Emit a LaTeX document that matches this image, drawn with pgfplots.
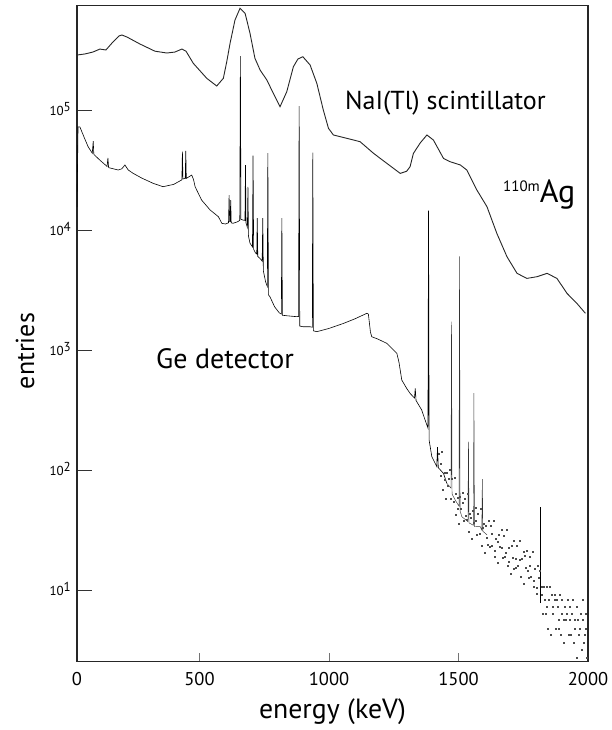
\documentclass[border=0pt]{standalone}
\usepackage{fontspec}
\setmainfont{PT Sans}
\usepackage{pgfplots}
\usepackage{pgfplotstable}
\pgfplotsset{compat=1.18}

% NaI(Tl) spectrum: energy (keV), log10(entries)
\pgfplotstableread{
E ly
26.7 5.458
57.6 5.467
88.5 5.483
115.5 5.508
138.7 5.500
165.8 5.567
189 5.617
200.5 5.625
220 5.608
270 5.550
328 5.490
374 5.475
405 5.483
432 5.508
448 5.490
476 5.389
528 5.264
566.5 5.200
592 5.264
605 5.400
618 5.556
637 5.750
656.5 5.848
676 5.806
695 5.639
714 5.431
734 5.333
760 5.250
785 5.139
811 5.028
837 5.153
862.5 5.361
880 5.425
899 5.444
927 5.375
953 5.222
978 5.000
998 4.847
1017 4.792
1069 4.764
1120 4.736
1172 4.639
1223 4.556
1275 4.472
1300 4.490
1313 4.528
1326 4.639
1352 4.725
1378 4.792
1403 4.750
1442 4.597
1468 4.569
1507 4.542
1532 4.500
1571 4.333
1610 4.194
1648 3.972
1687 3.778
1726 3.639
1764 3.597
1803 3.611
1842 3.639
1880 3.597
1919 3.472
1957 3.389
1990 3.306
}\naidata

% Ge detector spectrum: energy (keV), log10(entries)
\pgfplotstableread{
E ly
27 4.19
31 4.86
38 4.86
55 4.77
70 4.694
86 4.64
89.6 4.74
92 4.63
115 4.583
143 4.53
146.4 4.60
149 4.52
186 4.50
200 4.51
212 4.542
225 4.50
244 4.472
277 4.433
320 4.39
359 4.361
400 4.38
431 4.417
432 4.42
434 4.653
436 4.425
445 4.43
447 4.66
449 4.43
470 4.458
477 4.42
483 4.361
508 4.25
541 4.167
573 4.111
586 4.056
600 4.05
612 4.06
614.3 4.29
616.5 4.07
618.5 4.07
620.4 4.25
622.5 4.06
629 4.056
645 4.067
655.5 4.08
657.8 5.45
660 4.09
668 4.083
675.5 4.08
677.6 4.54
679.5 4.06
685 4.02
687 4.36
689 3.95
695 3.89
704.5 3.86
706.7 4.62
709 3.84
716 3.81
721 3.80
722.9 4.10
725 3.78
735 3.76
742 3.74
744.3 4.10
746.5 3.66
755 3.57
761.8 3.53
763.9 4.64
766 3.46
772 3.444
790 3.36
808 3.31
816 3.30
818 4.10
820 3.29
840 3.285
875.5 3.278
882.5 3.28
884.7 5.033
887 3.20
900 3.194
927 3.194
935.5 3.19
937.5 4.644
939.5 3.16
953 3.153
1000 3.18
1056 3.222
1100 3.26
1146 3.306
1152 3.30
1160 3.15
1165 3.111
1190 3.09
1223 3.056
1262 2.972
1270 2.90
1281 2.75
1300 2.68
1313 2.639
1330 2.60
1333 2.68
1336 2.58
1358 2.50
1371 2.417
1382 2.35
1384.3 4.161
1386.5 2.25
1397 2.111
1416 2.03
1419 2.19
1422 2.02
1442 1.972
1455 1.889
}\gedata

% Ge detector, low-count region with its lines
\pgfplotstableread{
E ly
1455 1.889
1471 1.85
1473 3.236
1475 1.80
1490 1.74
1502 1.70
1504 3.78
1506 1.66
1513 1.611
1536.5 1.57
1538.5 2.236
1540.5 1.56
1557.5 1.54
1559.5 2.64
1561.5 1.53
1584 1.528
1590 1.50
1592 1.925
1594 1.49
1610 1.46
}\getail

% Ge detector low-count tail (individual bins)
\pgfplotstableread{
E ly
1425 2.14
1430 1.95
1435 2.15
1440 1.84
1445 1.98
1450 1.76
1455 1.98
1460 1.87
1465 2.00
1470 1.76
1475 1.93
1480 1.74
1485 1.94
1490 1.63
1495 1.77
1500 1.55
1505 1.78
1510 1.68
1515 1.81
1520 1.58
1525 1.76
1530 1.59
1535 1.80
1540 1.49
1545 1.64
1550 1.43
1555 1.66
1560 1.56
1565 1.69
1570 1.46
1575 1.64
1580 1.47
1585 1.68
1590 1.37
1595 1.52
1600 1.31
1605 1.54
1610 1.44
1615 1.58
1620 1.36
1625 1.54
1630 1.37
1635 1.58
1640 1.28
1645 1.43
1650 1.23
1655 1.46
1660 1.36
1665 1.50
1670 1.27
1675 1.45
1680 1.28
1685 1.50
1690 1.20
1695 1.35
1700 1.14
1705 1.37
1710 1.27
1715 1.41
1720 1.19
1725 1.37
1730 1.20
1735 1.41
1740 1.11
1745 1.26
1750 1.05
1755 1.29
1760 1.19
1765 1.33
1770 1.10
1775 1.28
1780 1.11
1785 1.32
1790 1.03
1795 1.18
1800 0.97
1805 1.20
1810 1.10
1820 1.03
1825 0.806
1830 1.03
1835 0.806
1840 1.03
1845 0.68
1850 0.917
1855 0.625
1860 0.96
1865 0.806
1870 0.96
1875 0.68
1880 0.917
1885 0.75
1890 0.96
1895 0.625
1900 0.806
1905 0.558
1910 0.86
1915 0.75
1920 0.917
1925 0.625
1930 0.86
1935 0.625
1940 0.917
1945 0.558
1950 0.75
1955 0.433
1960 0.75
1965 0.625
1970 0.806
1975 0.5
1980 0.75
1985 0.558
1990 0.806
1995 0.433
1432 2.05
1448 1.92
1462 1.93
1488 1.80
1498 1.68
1518 1.73
1528 1.62
1548 1.60
1568 1.58
1598 1.55
1612 1.38
1628 1.47
1641 1.33
1652 1.40
1668 1.35
1684 1.31
1695 1.24
1712 1.18
1722 1.26
1738 1.25
1750 1.32
1766 1.16
1776 1.20
1792 1.08
1803 1.02
1812 1.16
1822 0.96
1833 0.917
1842 0.86
1852 1.03
1862 0.86
1872 0.917
1882 0.86
1888 0.68
1898 0.917
1908 0.75
1918 0.806
1928 0.75
1938 0.806
1948 0.68
1958 0.86
1968 0.68
1978 0.917
1988 0.625
1993 0.68
}\gedots

\begin{document}
\begin{tikzpicture}
\begin{axis}[
  scale only axis, width=511pt, height=656pt,
  at={(0pt,0pt)}, anchor=south west,
  xmin=27, xmax=2000,
  ymode=log, ymin=2.53, ymax=7.4e5,
  axis line style={line width=1.6pt, black!85},
  tick align=inside, xtick pos=bottom, ytick pos=left,
  xtick={27,500,1000,1500,2000},
  xticklabels={0,500,1000,1500,2000},
  ytick={10,100,1000,10000,100000},
  yticklabels={10\raisebox{0.28em}{1},10\raisebox{0.28em}{2},10\raisebox{0.28em}{3},10\raisebox{0.28em}{4},10\raisebox{0.28em}{5}},
  xminorticks=false, yminorticks=false,
  major tick length=15pt,
  xtick style={line width=0.6pt, black!55, /pgfplots/major tick length=9pt},
  ytick style={line width=0.7pt, black!80},
  xticklabel style={font=\fontsize{18.5}{20}\selectfont, anchor=base, yshift=-24pt, inner sep=0pt},
  yticklabel style={font=\fontsize{13}{14}\selectfont, anchor=base east, xshift=-6pt, yshift=-5pt, inner sep=0pt},
  xlabel={energy (keV)},
  ylabel={entries},
  xlabel style={font=\fontsize{27.8}{30}\selectfont, at={(axis description cs:0.5,-0.0767)}, anchor=center},
  ylabel style={font=\fontsize{26}{28}\selectfont, at={(axis description cs:-0.1018,0.4736)}, anchor=center},
]
\addplot[black!85, line width=0.9pt] table[x=E, y expr={10^(\thisrow{ly})}] {\naidata};
\addplot[black, line width=0.6pt] table[x=E, y expr={10^(\thisrow{ly})}] {\gedata};
\addplot[black!80, line width=0.45pt] table[x=E, y expr={10^(\thisrow{ly})}] {\getail};
\addplot[only marks, mark=square*, mark size=0.5pt, black!70] table[x=E, y expr={10^(\thisrow{ly})}] {\gedots};
\addplot[black, line width=0.9pt] coordinates {(1816,7.8) (1816,49)};
\end{axis}
\node[anchor=base west, inner sep=0pt, font=\fontsize{26}{28}\selectfont] at (268pt,551.7pt) {NaI(Tl) scintillator};
\node[anchor=base west, inner sep=0pt, font=\fontsize{28}{30}\selectfont] at (79pt,292.7pt) {Ge detector};
\node[anchor=base west, inner sep=0pt] at (426pt,458.7pt) {\fontsize{15}{16}\selectfont\raisebox{11pt}{110m}\fontsize{32}{34}\selectfont Ag};
\pgfresetboundingbox
\useasboundingbox (-77pt,-68.3pt) rectangle (535pt,661.7pt);
\end{tikzpicture}
\end{document}
